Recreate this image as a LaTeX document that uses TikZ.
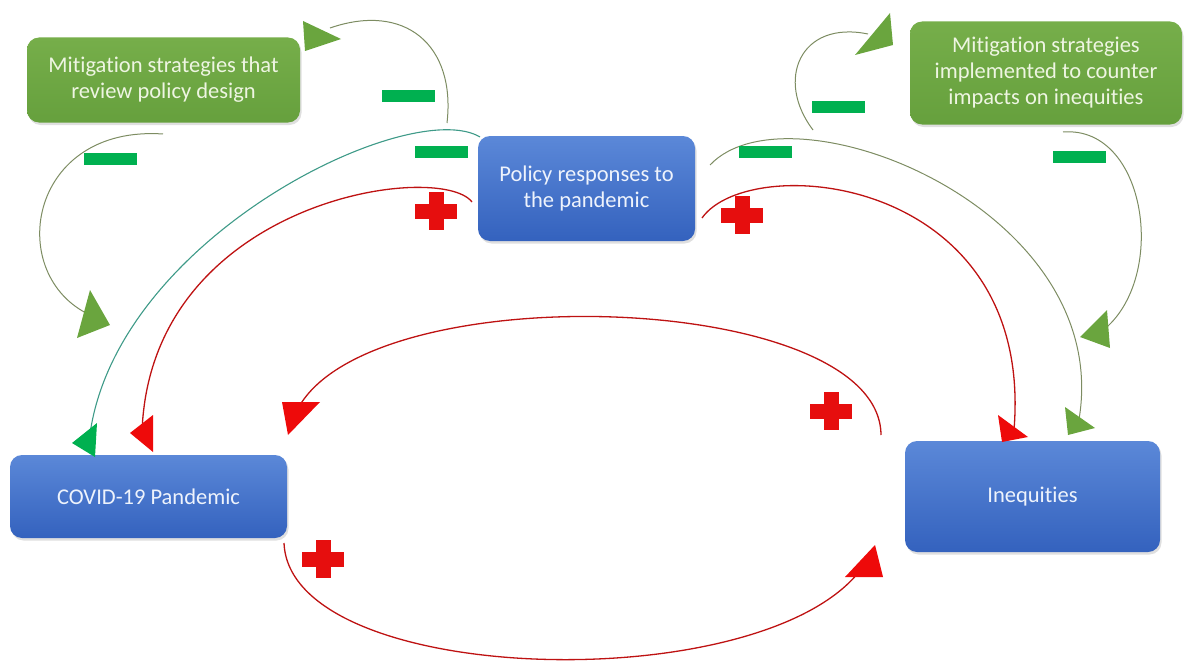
\documentclass[tikz,border=0pt]{standalone}
\usepackage{fontspec}
\setmainfont{Carlito}[Ligatures={NoCommon,NoDiscretionary}]
\usetikzlibrary{shadows}
\definecolor{blueT}{HTML}{5B88D8}
\definecolor{blueB}{HTML}{3462BE}
\definecolor{greenT}{HTML}{76AE4A}
\definecolor{greenB}{HTML}{66A03D}
\definecolor{bluetext}{HTML}{EEF3FC}
\definecolor{greentext}{HTML}{EEF5E2}
\definecolor{loopcol}{HTML}{7D8C62}
\definecolor{tealcol}{HTML}{3E9A88}
\definecolor{redcol}{HTML}{BE1212}
\definecolor{tipgreen}{HTML}{6AA53E}
\definecolor{tipbright}{HTML}{00B050}
\definecolor{tipred}{HTML}{EE0A0A}
\definecolor{minuscol}{HTML}{00B050}
\definecolor{pluscol}{HTML}{E60E0E}
\begin{document}
\begin{tikzpicture}[x=1pt,y=-1pt,
  basebox/.style={rounded corners=12pt, align=center, inner sep=0pt,
    font=\fontsize{22.5}{26}\selectfont,
    drop shadow={opacity=0.25, shadow xshift=1.5pt, shadow yshift=-2.5pt}},
  bluebox/.style={basebox, top color=blueT, bottom color=blueB, text=bluetext},
  greenbox/.style={basebox, top color=greenT, bottom color=greenB, text=greentext},
  loopline/.style={draw=loopcol, line width=1pt},
  tealline/.style={draw=tealcol, line width=1.1pt},
  redline/.style={draw=redcol, line width=1.3pt},
  minuspic/.pic={\fill[minuscol] (-26.5,-6) rectangle (26.5,6);},
  pluspic/.pic={\fill[pluscol] (-21,-7.5) rectangle (21,7.5);
                \fill[pluscol] (-7.5,-19) rectangle (7.5,19);}
]
\useasboundingbox (0,0) rectangle (1184,661);

% boxes
\node[greenbox, minimum width=273pt, minimum height=85pt] (mitL) at (163.5,80) {Mitigation strategies that\\review policy design};
\node[greenbox, minimum width=272pt, minimum height=103pt] (mitR) at (1046,73) {Mitigation strategies\\implemented to counter\\impacts on inequities};
\node[bluebox, minimum width=217pt, minimum height=105pt] (policy) at (586.5,188.5) {Policy responses to\\the pandemic};
\node[bluebox, minimum width=277pt, minimum height=83pt] (covid) at (148.5,496.5) {COVID-19 Pandemic};
\node[bluebox, minimum width=255pt, minimum height=111pt] (ineq) at (1032.5,496.5) {Inequities};

% connector end points
\coordinate (c1s) at (447,123);  \coordinate (c1e) at (330,28);
\coordinate (c2s) at (163,134);  \coordinate (c2e) at (86,313);
\coordinate (c3s) at (480,137);  \coordinate (c3e) at (89,442);
\coordinate (c4s) at (472,202);  \coordinate (c4e) at (142,432);
\coordinate (c5s) at (710,165);  \coordinate (c5e) at (1078,425);
\coordinate (c6s) at (702,218);  \coordinate (c6e) at (1014,430);
\coordinate (c7s) at (1063,132); \coordinate (c7e) at (1095,336);
\coordinate (c8s) at (881,435);  \coordinate (c8e) at (300,405);
\coordinate (c9s) at (284,543);  \coordinate (c9e) at (866,562);

% connectors
\path[loopline] (c1s) .. controls (456,45) and (405,2) .. (c1e);
\path[loopline] (c2s) .. controls (30,125) and (5,270) .. (c2e);
\path[tealline] (c3s) .. controls (410,95) and (110,240) .. (c3e);
\path[redline]  (c4s) .. controls (440,160) and (150,200) .. (c4e);
\path[loopline] (c5s) .. controls (790,80) and (1120,210) .. (c5e);
\path[redline]  (c6s) .. controls (750,150) and (1035,175) .. (c6e);
\path[loopline] (c7s) .. controls (1150,125) and (1170,290) .. (c7e);
\path[loopline] (813,130) .. controls (775,80) and (800,20) .. (868,34);
\path[redline]  (c8s) .. controls (880,292) and (380,274) .. (c8e);
\path[redline]  (c9s) .. controls (290,690) and (780,700) .. (c9e);

% arrowheads
\fill[tipgreen]  (303,21) -- (341,39) -- (305,51) -- cycle;
\fill[tipgreen]  (855,55) -- (890,13) -- (893,45) -- cycle;
\fill[tipgreen]  (90,290) -- (110,325) -- (77,338) -- cycle;
\fill[tipbright] (97,423) -- (95,457) -- (72,443) -- cycle;
\fill[tipred]    (153,415) -- (153,452) -- (130,433) -- cycle;
\fill[tipred]    (282,402) -- (320,402) -- (288,435) -- cycle;
\fill[tipred]    (998,415) -- (1028,437) -- (1002,442) -- cycle;
\fill[tipgreen]  (1065,407) -- (1095,428) -- (1068,435) -- cycle;
\fill[tipgreen]  (1107,310) -- (1110,348) -- (1080,337) -- cycle;
\fill[tipred]    (845,577) -- (875,545) -- (883,577) -- cycle;

% polarity signs
\pic at (408,96) {minuspic};
\pic at (441,152) {minuspic};
\pic at (110,159) {minuspic};
\pic at (838,107) {minuspic};
\pic at (765,152) {minuspic};
\pic at (1079,157) {minuspic};
\pic at (436,211) {pluspic};
\pic at (742,215) {pluspic};
\pic at (831,411) {pluspic};
\pic at (323,559) {pluspic};
\end{tikzpicture}
\end{document}
